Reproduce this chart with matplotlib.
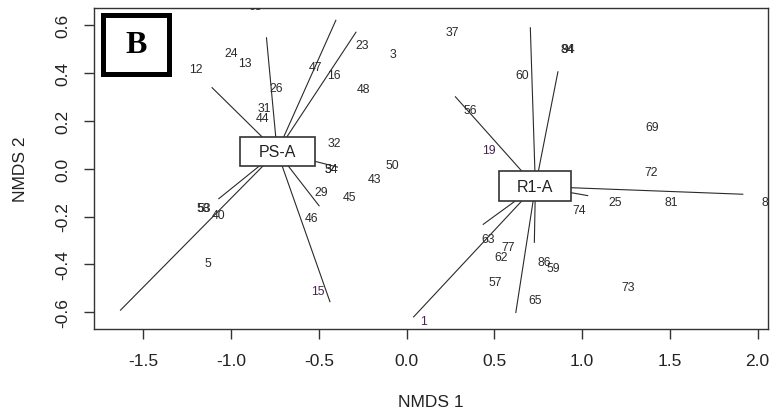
import matplotlib
matplotlib.use("Agg")
import matplotlib.pyplot as plt
from matplotlib.patches import Rectangle

plt.rcParams['font.family'] = ['Liberation Sans', 'DejaVu Sans']

# ---- data -------------------------------------------------------------
site_labels = ["24", "13", "12", "47", "16", "23", "3", "48", "26", "31", "44",
               "32", "50", "54", "34", "43", "29", "45", "58", "53", "40", "46",
               "5", "15", "63",
               "37", "84", "94", "60", "56", "19", "69", "72", "74", "25", "81",
               "85", "63", "77", "62", "86", "59", "57", "73", "65", "1"]
site_x = [-1.000, -0.919, -1.200, -0.522, -0.412, -0.256, -0.076, -0.243, -0.746,
          -0.809, -0.822, -0.414, -0.083, -0.427, -0.431, -0.184, -0.484, -0.323,
          -1.158, -1.156, -1.069, -0.541, -1.133, -0.507, -0.864,
          0.260, 0.918, 0.921, 0.659, 0.361, 0.471, 1.402, 1.394, 0.984, 1.187,
          1.511, 2.060, 0.466, 0.579, 0.538, 0.783, 0.836, 0.508, 1.260, 0.732,
          0.095]
site_y = [0.482, 0.443, 0.415, 0.424, 0.393, 0.518, 0.479, 0.334, 0.338, 0.254,
          0.211, 0.106, 0.017, -0.003, -0.003, -0.043, -0.097, -0.119, -0.164,
          -0.164, -0.192, -0.206, -0.395, -0.510, 0.679,
          0.570, 0.500, 0.500, 0.393, 0.245, 0.078, 0.173, -0.015, -0.173, -0.140,
          -0.140, -0.140, -0.294, -0.326, -0.370, -0.388, -0.416, -0.475, -0.493,
          -0.548, -0.637]
purple_labels = ["15", "19", "1"]

groups = ["PS-A", "R1-A"]
centroid_x = [-0.738, 0.734]
centroid_y = [0.071, -0.074]

psa_end_x = [-1.111, -0.799, -0.402, -0.287, -0.391, -1.633, -1.073, -0.497, -0.436]
psa_end_y = [0.340, 0.549, 0.622, 0.572, 0.006, -0.593, -0.127, -0.157, -0.558]
r1a_end_x = [0.705, 0.863, 0.276, 1.919, 1.035, 0.434, 0.038, 0.622, 0.728]
r1a_end_y = [0.591, 0.407, 0.302, -0.107, -0.113, -0.234, -0.621, -0.603, -0.310]

x_ticks = [-1.5, -1.0, -0.5, 0.0, 0.5, 1.0, 1.5, 2.0]
y_ticks = [-0.6, -0.4, -0.2, 0.0, 0.2, 0.4, 0.6]
panel_letter = "B"

# ---- figure -----------------------------------------------------------
W, H = 771, 414
fig = plt.figure(figsize=(W / 100, H / 100), dpi=100)
ax = fig.add_axes([94.3 / W, 1 - 330 / H, (767.7 - 94.3) / W, (330 - 9.3) / H])
ax.set_xlim(-1.780, 2.058)
ax.set_ylim(-0.670, 0.670)

# pixel -> data scale factors (for label box size)
px_x = (2.058 + 1.780) / (767.7 - 94.3)
px_y = (0.670 * 2) / (330 - 9.3)

line_col = "#2a2a2a"
for (cx, cy), ex, ey in zip(zip(centroid_x, centroid_y),
                            [psa_end_x, r1a_end_x], [psa_end_y, r1a_end_y]):
    for x2, y2 in zip(ex, ey):
        ax.plot([cx, x2], [cy, y2], color=line_col, lw=0.8, zorder=2,
                solid_capstyle="butt")

for lab, x, y in zip(site_labels, site_x, site_y):
    col = "#4a2352" if lab in purple_labels else "#2a2a2a"
    ax.text(x, y, lab, ha="center", va="center", fontsize=8.8, color=col,
            clip_on=True, zorder=3)

# centroid label boxes
box_w_px = [75, 72]
box_h_px = [29, 30]
for g, cx, cy, bw, bh in zip(groups, centroid_x, centroid_y, box_w_px, box_h_px):
    w = bw * px_x
    h = bh * px_y
    ax.add_patch(Rectangle((cx - w / 2, cy - h / 2), w, h, fc="white",
                           ec="#333333", lw=1.2, zorder=4))
    ax.text(cx, cy, g, ha="center", va="center", fontsize=11.5, color="#222222",
            zorder=5)

# panel letter box
ax.add_patch(Rectangle((0.0132, 0.796), 0.097, 0.184, transform=ax.transAxes,
                       fill=True, fc="white", ec="black", lw=3.6, zorder=6,
                       clip_on=False))
ax.text(0.0617, 0.888, panel_letter, transform=ax.transAxes, ha="center",
        va="center", fontsize=23, fontweight="bold",
        family=["Liberation Serif", "DejaVu Serif"], zorder=7)

# axes styling
for sp in ax.spines.values():
    sp.set_color("#333333")
    sp.set_linewidth(1.0)
ax.set_xticks(x_ticks)
ax.set_xticklabels([f"{v:.1f}" for v in x_ticks])
ax.set_yticks(y_ticks)
ax.set_yticklabels([f"{v:.1f}" for v in y_ticks], rotation=90, va="center")
ax.tick_params(axis="both", direction="out", length=7, width=1.0,
               color="#333333", labelsize=12.5, labelcolor="#222222")
ax.tick_params(axis="x", pad=10)
ax.tick_params(axis="y", pad=10)

fig.text(431 / W, 1 - 403 / H, "NMDS 1", ha="center", va="center",
         fontsize=12.5, color="#222222")
fig.text(20.5 / W, 1 - 169.5 / H, "NMDS 2", ha="center", va="center",
         fontsize=12.5, color="#222222", rotation=90)

fig.savefig("out.png", dpi=100)
